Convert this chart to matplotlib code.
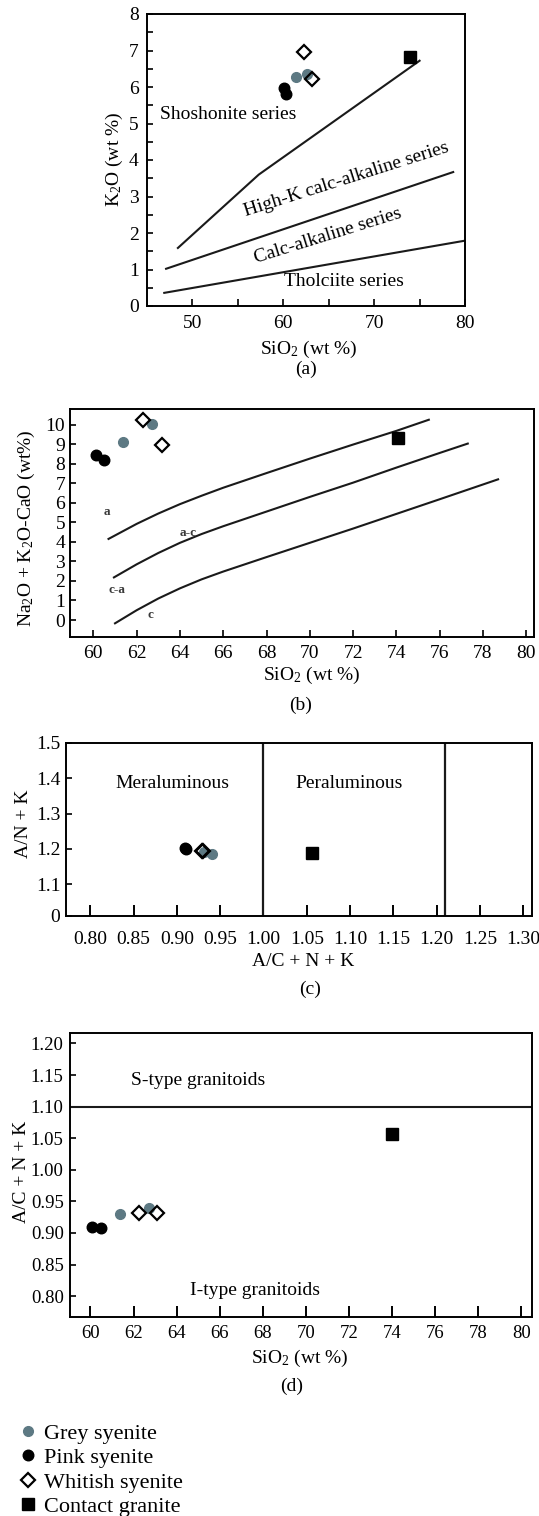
import matplotlib

matplotlib.use("Agg")
import matplotlib.pyplot as plt
from matplotlib.ticker import FixedLocator

W, H = 539, 1516

plt.rcParams["font.family"] = ["Liberation Serif", "DejaVu Serif"]
plt.rcParams["mathtext.fontset"] = "custom"
plt.rcParams["mathtext.rm"] = "Liberation Serif"
plt.rcParams["mathtext.it"] = "Liberation Serif:italic"
plt.rcParams["mathtext.bf"] = "Liberation Serif:bold"
plt.rcParams["axes.linewidth"] = 1.4

GREY = "#5d7983"

# (a) K2O vs SiO2
a_grey_x, a_grey_y = [61.4, 62.6], [6.27, 6.36]
a_pink_x, a_pink_y = [60.05, 60.35], [5.97, 5.81]
a_white_x, a_white_y = [62.25, 63.15], [6.97, 6.22]
a_gran_x, a_gran_y = [74.0], [6.82]
a_shosh_x, a_shosh_y = [48.4, 57.3, 75.0], [1.59, 3.60, 6.72]
a_highk_x, a_highk_y = [47.1, 78.7], [1.02, 3.67]
a_thol_x, a_thol_y = [46.9, 80.0], [0.36, 1.79]

# (b) Na2O + K2O - CaO vs SiO2
b_grey_x, b_grey_y = [61.35, 62.73], [9.11, 10.02]
b_pink_x, b_pink_y = [60.1, 60.48], [8.43, 8.18]
b_white_x, b_white_y = [62.29, 63.18], [10.26, 8.98]
b_gran_x, b_gran_y = [74.08], [9.32]
b_top_x = [60.7, 62.0, 63.0, 64.0, 65.0, 66.0, 68.0, 70.0, 72.0, 74.0, 75.5]
b_top_y = [4.15, 4.92, 5.45, 5.93, 6.36, 6.77, 7.52, 8.26, 8.98, 9.68, 10.25]
b_mid_x = [60.95, 62.0, 63.0, 64.0, 65.0, 66.0, 68.0, 70.0, 72.0, 74.0, 76.0, 77.3]
b_mid_y = [2.18, 2.85, 3.43, 3.95, 4.40, 4.80, 5.55, 6.30, 7.03, 7.80, 8.55, 9.03]
b_low_x = [61.0, 62.0, 63.0, 64.0, 65.0, 66.0, 68.0, 70.0, 72.0, 74.0, 76.0, 78.7]
b_low_y = [-0.17, 0.50, 1.10, 1.62, 2.08, 2.48, 3.22, 3.95, 4.68, 5.43, 6.18, 7.20]

# (c) A/NK vs A/CNK
c_grey_x, c_grey_y = [0.931, 0.940], [1.191, 1.187]
c_pink_x, c_pink_y = [0.909, 0.910], [1.202, 1.200]
c_white_x, c_white_y = [0.929, 0.930], [1.195, 1.193]
c_gran_x, c_gran_y = [1.056], [1.188]
c_bounds = [1.00, 1.21]
c_yticks = [1.01, 1.1, 1.2, 1.3, 1.4, 1.5]
c_ylabels = ["0", "1.1", "1.2", "1.3", "1.4", "1.5"]

# (d) A/CNK vs SiO2
d_grey_x, d_grey_y = [61.35, 62.71], [0.930, 0.939]
d_pink_x, d_pink_y = [60.06, 60.48], [0.909, 0.908]
d_white_x, d_white_y = [62.24, 63.11], [0.931, 0.931]
d_gran_x, d_gran_y = [74.01], [1.057]
d_si_line = 1.10

fig = plt.figure(figsize=(W / 100, H / 100), dpi=100)
fig.patch.set_facecolor("white")


def add_axes(left, right, top, bottom):
    return fig.add_axes([left / W, 1 - bottom / H, (right - left) / W, (bottom - top) / H])


def ftext(x, y, s, **kw):
    return fig.text(x / W, 1 - y / H, s, **kw)


def samples(ax, gx, gy, px, py, wx, wy, sx, sy):
    handles = []
    handles += ax.plot(gx, gy, "o", ms=7.0, color=GREY, mec=GREY, zorder=4, label="Grey syenite")
    handles += ax.plot(px, py, "o", ms=7.6, color="black", zorder=4, label="Pink syenite")
    handles += ax.plot(wx, wy, "D", ms=7.2, mfc="none", mec="black", mew=1.6, zorder=5,
                       label="Whitish syenite")
    handles += ax.plot(sx, sy, "s", ms=8.0, color="black", zorder=4, label="Contact granite")
    return handles


# ---- (a)
ax = add_axes(147, 465, 14, 306)
ax.set_xlim(45, 80)
ax.set_ylim(0, 8)
for xs, ys in [(a_shosh_x, a_shosh_y), (a_highk_x, a_highk_y), (a_thol_x, a_thol_y)]:
    ax.plot(xs, ys, color="#1a1a1a", lw=1.5)
samples(ax, a_grey_x, a_grey_y, a_pink_x, a_pink_y, a_white_x, a_white_y, a_gran_x, a_gran_y)
ax.set_xticks([50, 60, 70, 80])
ax.xaxis.set_minor_locator(FixedLocator([55, 65, 75]))
ax.set_yticks(range(0, 9))
ax.yaxis.set_minor_locator(FixedLocator([i + 0.5 for i in range(8)]))
ax.tick_params(axis="x", which="both", direction="in", length=5, width=1.2, pad=6.5, labelsize=14)
ax.tick_params(axis="y", which="both", direction="in", length=4, width=1.2, pad=6, labelsize=14)
ax.text(46.4, 5.26, "Shoshonite series", fontsize=14, ha="left", va="center")
ax.text(66.9, 3.46, "High-K calc-alkaline series", fontsize=14, ha="center", va="center",
        rotation=17.6, rotation_mode="anchor")
ax.text(64.9, 1.91, "Calc-alkaline series", fontsize=14, ha="center", va="center",
        rotation=17.3, rotation_mode="anchor")
ax.text(66.7, 0.68, "Tholciite series", fontsize=14, ha="center", va="center")
ftext(118.5, 159, "K$_2$O (wt %)", fontsize=14, rotation=90, ha="center", va="baseline",
      rotation_mode="anchor")
ftext(309, 354, "SiO$_2$ (wt %)", fontsize=14, ha="center", va="baseline")
ftext(306, 374, "(a)", fontsize=14, ha="center", va="baseline")

# ---- (b)
ax = add_axes(70, 534, 409, 637)
ax.set_xlim(58.92, 80.36)
ax.set_ylim(-0.87, 10.8)
for xs, ys in [(b_top_x, b_top_y), (b_mid_x, b_mid_y), (b_low_x, b_low_y)]:
    ax.plot(xs, ys, color="#1a1a1a", lw=1.5)
samples(ax, b_grey_x, b_grey_y, b_pink_x, b_pink_y, b_white_x, b_white_y, b_gran_x, b_gran_y)
ax.set_xticks(range(60, 81, 2))
ax.set_yticks(range(0, 11))
ax.tick_params(axis="x", direction="in", length=5, width=1.2, pad=6, labelsize=14)
ax.tick_params(axis="y", direction="in", length=4, width=1.2, pad=3.5, labelsize=14)
for x, y, s in [(60.63, 5.54, "a"), (64.37, 4.46, "a-c"), (61.11, 1.53, "c-a"), (62.65, 0.26, "c")]:
    ax.text(x, y, s, fontsize=9.5, fontweight="bold", color="#3a3a3a", ha="center", va="center")
ftext(30.5, 528, "Na$_2$O + K$_2$O-CaO (wt%)", fontsize=14, rotation=90, ha="center",
      va="baseline", rotation_mode="anchor")
ftext(312, 679.5, "SiO$_2$ (wt %)", fontsize=14, ha="center", va="baseline")
ftext(301, 709.5, "(b)", fontsize=14, ha="center", va="baseline")

# ---- (c)
ax = add_axes(66, 532, 743, 916)
ax.set_xlim(0.772, 1.31)
ax.set_ylim(1.01, 1.5)
for xb in c_bounds:
    ax.axvline(xb, color="#1a1a1a", lw=1.6)
samples(ax, c_grey_x, c_grey_y, c_pink_x, c_pink_y, c_white_x, c_white_y, c_gran_x, c_gran_y)
ax.set_xticks([0.80 + 0.05 * i for i in range(11)])
ax.set_xticklabels([f"{0.80 + 0.05 * i:.2f}" for i in range(11)])
ax.set_yticks(c_yticks)
ax.set_yticklabels(c_ylabels)
ax.tick_params(axis="x", direction="in", length=8, width=1.4, pad=11, labelsize=14)
ax.tick_params(axis="y", direction="in", length=4, width=1.2, pad=4, labelsize=14)
ax.text(0.895, 1.385, "Meraluminous", fontsize=14, ha="center", va="center")
ax.text(1.0985, 1.385, "Peraluminous", fontsize=14, ha="center", va="center")
ftext(28, 824, "A/N + K", fontsize=14, rotation=90, ha="center", va="baseline",
      rotation_mode="anchor")
ftext(303, 966.5, "A/C + N + K", fontsize=14, ha="center", va="baseline")
ftext(310, 994, "(c)", fontsize=14, ha="center", va="baseline")

# ---- (d)
ax = add_axes(70, 532, 1033, 1317)
ax.set_xlim(59.05, 80.49)
ax.set_ylim(0.767, 1.2166)
ax.axhline(d_si_line, color="#1a1a1a", lw=1.5)
handles = samples(ax, d_grey_x, d_grey_y, d_pink_x, d_pink_y, d_white_x, d_white_y,
                  d_gran_x, d_gran_y)
ax.set_xticks(range(60, 81, 2))
ax.set_yticks([0.80 + 0.05 * i for i in range(9)])
ax.set_yticklabels([f"{0.80 + 0.05 * i:.2f}" for i in range(9)])
ax.tick_params(axis="x", direction="in", length=8, width=1.4, pad=5.5, labelsize=13.5)
ax.tick_params(axis="y", direction="in", length=4, width=1.2, pad=4.5, labelsize=13.5)
ax.text(61.9, 1.142, "S-type granitoids", fontsize=14, ha="left", va="center")
ax.text(67.64, 0.809, "I-type granitoids", fontsize=14, ha="center", va="center")
ftext(26.5, 1172, "A/C + N + K", fontsize=14, rotation=90, ha="center", va="baseline",
      rotation_mode="anchor")
ftext(300, 1363, "SiO$_2$ (wt %)", fontsize=14, ha="center", va="baseline")
ftext(292, 1391, "(d)", fontsize=14, ha="center", va="baseline")

fig.legend(handles=handles, loc="upper left", bbox_to_anchor=(17 / W, 1 - 1423 / H),
           frameon=False, fontsize=16, handlelength=1.0, handletextpad=0.2,
           labelspacing=0.18, borderpad=0, borderaxespad=0)

fig.savefig("out.png", dpi=100, facecolor="white")
